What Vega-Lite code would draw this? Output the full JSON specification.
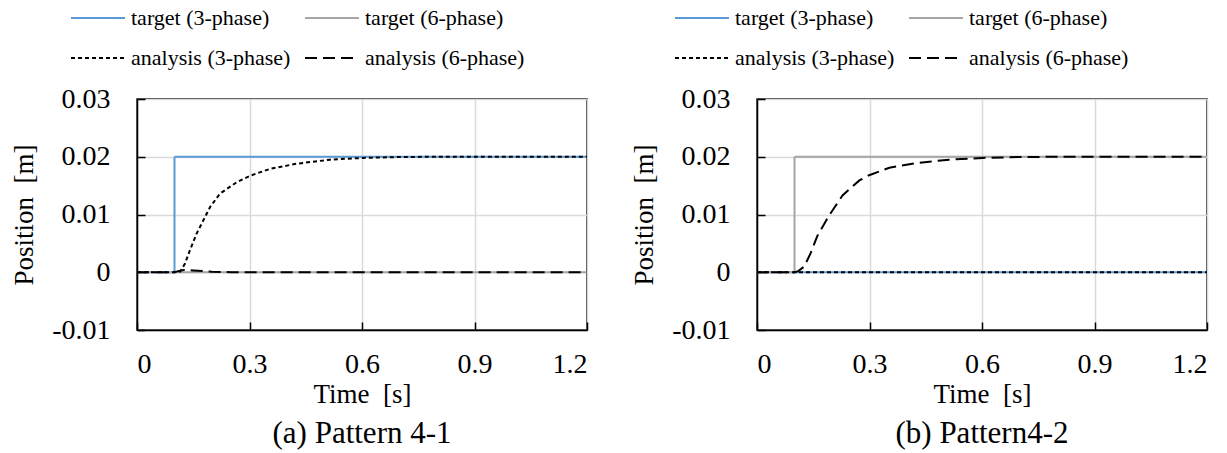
{
  "$schema": "https://vega.github.io/schema/vega-lite/v6.json",
  "background": "white",
  "padding": {"left": 9, "top": -11, "right": 5, "bottom": 3},
  "spacing": 40,
  "config": {
    "font": "Liberation Serif",
    "style": {
      "guide-label": {"font": "Liberation Serif"},
      "guide-title": {"font": "Liberation Serif"},
      "group-title": {"font": "Liberation Serif"}
    },
    "view": {"stroke": "black", "strokeWidth": 1.5},
    "axis": {
      "labelFont": "Liberation Serif", "labelFontSize": 28, "labelColor": "black",
      "titleFont": "Liberation Serif", "titleFontSize": 27, "titleFontWeight": "normal", "titleColor": "black",
      "domainColor": "black", "domainWidth": 1.5, "tickColor": "black", "tickWidth": 1.5, "tickSize": -8,
      "gridColor": "#D9D9D9", "gridWidth": 1.5
    },
    "legend": {
      "labelFont": "Liberation Serif", "labelFontSize": 22, "labelColor": "black",
      "symbolType": "stroke", "symbolSize": 2916, "symbolStrokeWidth": 2,
      "columns": 2, "direction": "horizontal", "columnPadding": 10, "rowPadding": 1, "labelOffset": 5, "labelLimit": 300
    },
    "title": {"font": "Liberation Serif", "fontSize": 31, "fontWeight": "normal", "color": "black"}
  },
  "datasets": {
    "pts": [
      {"panel": "a", "series": "target (3-phase)", "t": 0, "y": 0},
      {"panel": "a", "series": "target (3-phase)", "t": 0.1, "y": 0},
      {"panel": "a", "series": "target (3-phase)", "t": 0.1, "y": 0.02},
      {"panel": "a", "series": "target (3-phase)", "t": 1.2, "y": 0.02},
      {"panel": "a", "series": "target (6-phase)", "t": 0, "y": 0},
      {"panel": "a", "series": "target (6-phase)", "t": 1.2, "y": 0},
      {"panel": "a", "series": "analysis (3-phase)", "t": 0, "y": 0},
      {"panel": "a", "series": "analysis (3-phase)", "t": 0.1, "y": 0},
      {"panel": "a", "series": "analysis (3-phase)", "t": 0.115, "y": 0.0001},
      {"panel": "a", "series": "analysis (3-phase)", "t": 0.128, "y": 0.0015},
      {"panel": "a", "series": "analysis (3-phase)", "t": 0.141, "y": 0.0038},
      {"panel": "a", "series": "analysis (3-phase)", "t": 0.159, "y": 0.0067},
      {"panel": "a", "series": "analysis (3-phase)", "t": 0.177, "y": 0.009},
      {"panel": "a", "series": "analysis (3-phase)", "t": 0.195, "y": 0.0113},
      {"panel": "a", "series": "analysis (3-phase)", "t": 0.221, "y": 0.0136},
      {"panel": "a", "series": "analysis (3-phase)", "t": 0.266, "y": 0.0156},
      {"panel": "a", "series": "analysis (3-phase)", "t": 0.301, "y": 0.0167},
      {"panel": "a", "series": "analysis (3-phase)", "t": 0.355, "y": 0.0179},
      {"panel": "a", "series": "analysis (3-phase)", "t": 0.426, "y": 0.0188},
      {"panel": "a", "series": "analysis (3-phase)", "t": 0.515, "y": 0.0195},
      {"panel": "a", "series": "analysis (3-phase)", "t": 0.603, "y": 0.0198},
      {"panel": "a", "series": "analysis (3-phase)", "t": 0.7, "y": 0.01995},
      {"panel": "a", "series": "analysis (3-phase)", "t": 0.8, "y": 0.02},
      {"panel": "a", "series": "analysis (3-phase)", "t": 1.2, "y": 0.02},
      {"panel": "a", "series": "analysis (6-phase)", "t": 0, "y": 0},
      {"panel": "a", "series": "analysis (6-phase)", "t": 0.1, "y": 0},
      {"panel": "a", "series": "analysis (6-phase)", "t": 0.11, "y": 0.0002},
      {"panel": "a", "series": "analysis (6-phase)", "t": 0.125, "y": 0.0004},
      {"panel": "a", "series": "analysis (6-phase)", "t": 0.15, "y": 0.0003},
      {"panel": "a", "series": "analysis (6-phase)", "t": 0.2, "y": 0.0001},
      {"panel": "a", "series": "analysis (6-phase)", "t": 0.25, "y": 0},
      {"panel": "a", "series": "analysis (6-phase)", "t": 1.2, "y": 0},
      {"panel": "b", "series": "target (3-phase)", "t": 0, "y": 0},
      {"panel": "b", "series": "target (3-phase)", "t": 1.2, "y": 0},
      {"panel": "b", "series": "target (6-phase)", "t": 0, "y": 0},
      {"panel": "b", "series": "target (6-phase)", "t": 0.1, "y": 0},
      {"panel": "b", "series": "target (6-phase)", "t": 0.1, "y": 0.02},
      {"panel": "b", "series": "target (6-phase)", "t": 1.2, "y": 0.02},
      {"panel": "b", "series": "analysis (3-phase)", "t": 0, "y": 0},
      {"panel": "b", "series": "analysis (3-phase)", "t": 1.2, "y": 0},
      {"panel": "b", "series": "analysis (6-phase)", "t": 0, "y": 0},
      {"panel": "b", "series": "analysis (6-phase)", "t": 0.1, "y": 0},
      {"panel": "b", "series": "analysis (6-phase)", "t": 0.11, "y": 0.0002},
      {"panel": "b", "series": "analysis (6-phase)", "t": 0.126, "y": 0.001},
      {"panel": "b", "series": "analysis (6-phase)", "t": 0.143, "y": 0.0033},
      {"panel": "b", "series": "analysis (6-phase)", "t": 0.161, "y": 0.0063},
      {"panel": "b", "series": "analysis (6-phase)", "t": 0.192, "y": 0.0098},
      {"panel": "b", "series": "analysis (6-phase)", "t": 0.228, "y": 0.0133},
      {"panel": "b", "series": "analysis (6-phase)", "t": 0.273, "y": 0.0159},
      {"panel": "b", "series": "analysis (6-phase)", "t": 0.299, "y": 0.0168},
      {"panel": "b", "series": "analysis (6-phase)", "t": 0.353, "y": 0.0181},
      {"panel": "b", "series": "analysis (6-phase)", "t": 0.424, "y": 0.0189},
      {"panel": "b", "series": "analysis (6-phase)", "t": 0.513, "y": 0.0195},
      {"panel": "b", "series": "analysis (6-phase)", "t": 0.602, "y": 0.0198},
      {"panel": "b", "series": "analysis (6-phase)", "t": 0.7, "y": 0.01995},
      {"panel": "b", "series": "analysis (6-phase)", "t": 0.8, "y": 0.02},
      {"panel": "b", "series": "analysis (6-phase)", "t": 1.2, "y": 0.02}
    ]
  },
  "resolve": {
    "scale": {"color": "independent", "strokeDash": "independent", "x": "independent", "y": "independent"},
    "legend": {"color": "independent", "strokeDash": "independent"}
  },
  "hconcat": [
    {
      "width": 450, "height": 231,
      "title": {"text": "(a) Pattern 4-1", "orient": "bottom", "offset": 12},
      "data": {"name": "pts"},
      "transform": [{"filter": "datum.panel == 'a'"}],
      "mark": {"type": "line", "strokeWidth": 2, "clip": true},
      "encoding": {
        "x": {"field": "t", "type": "quantitative", "scale": {"domain": [0, 1.2], "nice": false},
          "axis": {"values": [0, 0.3, 0.6, 0.9, 1.2], "format": "~g", "title": "Time \u00a0[s]", "labelPadding": 28, "titlePadding": 3}},
        "y": {"field": "y", "type": "quantitative", "scale": {"domain": [-0.01, 0.03], "nice": false},
          "axis": {"values": [-0.01, 0, 0.01, 0.02, 0.03], "labelExpr": "datum.value < 0 ? '-' + format(-datum.value, '~g') : format(datum.value, '~g')", "title": "Position \u00a0[m]", "labelPadding": 35, "titlePadding": 13}},
        "color": {"field": "series", "type": "nominal",
          "scale": {"domain": ["target (3-phase)", "target (6-phase)", "analysis (3-phase)", "analysis (6-phase)"], "range": ["#5B9BD5", "#A5A5A5", "black", "black"]},
          "legend": {"title": null, "orient": "none", "legendX": -67, "legendY": -109}},
        "strokeDash": {"field": "series", "type": "nominal",
          "scale": {"domain": ["target (3-phase)", "target (6-phase)", "analysis (3-phase)", "analysis (6-phase)"], "range": [[1, 0], [1, 0], [4, 3], [12, 6]]},
          "legend": {"title": null, "orient": "none", "legendX": -67, "legendY": -109}},
        "order": {"value": null}
      }
    },
    {
      "width": 450, "height": 231,
      "title": {"text": "(b) Pattern4-2", "orient": "bottom", "offset": 12},
      "data": {"name": "pts"},
      "transform": [{"filter": "datum.panel == 'b'"}],
      "mark": {"type": "line", "strokeWidth": 2, "clip": true},
      "encoding": {
        "x": {"field": "t", "type": "quantitative", "scale": {"domain": [0, 1.2], "nice": false},
          "axis": {"values": [0, 0.3, 0.6, 0.9, 1.2], "format": "~g", "title": "Time \u00a0[s]", "labelPadding": 28, "titlePadding": 3}},
        "y": {"field": "y", "type": "quantitative", "scale": {"domain": [-0.01, 0.03], "nice": false},
          "axis": {"values": [-0.01, 0, 0.01, 0.02, 0.03], "labelExpr": "datum.value < 0 ? '-' + format(-datum.value, '~g') : format(datum.value, '~g')", "title": "Position \u00a0[m]", "labelPadding": 35, "titlePadding": 13}},
        "color": {"field": "series", "type": "nominal",
          "scale": {"domain": ["target (3-phase)", "target (6-phase)", "analysis (3-phase)", "analysis (6-phase)"], "range": ["#5B9BD5", "#A5A5A5", "black", "black"]},
          "legend": {"title": null, "orient": "none", "legendX": -83, "legendY": -109}},
        "strokeDash": {"field": "series", "type": "nominal",
          "scale": {"domain": ["target (3-phase)", "target (6-phase)", "analysis (3-phase)", "analysis (6-phase)"], "range": [[1, 0], [1, 0], [4, 3], [12, 6]]},
          "legend": {"title": null, "orient": "none", "legendX": -83, "legendY": -109}},
        "order": {"value": null}
      }
    }
  ]
}
